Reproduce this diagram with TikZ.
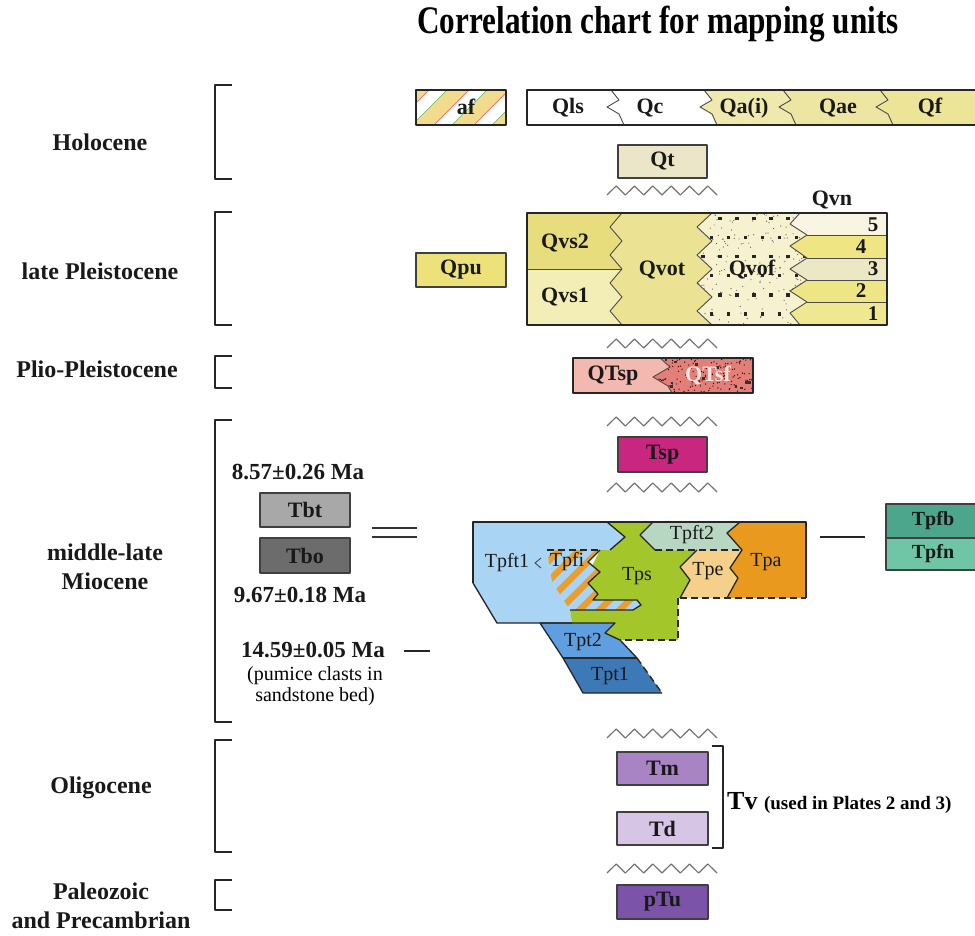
\documentclass[tikz,border=0pt]{standalone}
\usepackage{graphicx}
\usepackage{fontspec}
\setmainfont{Liberation Serif}
\definecolor{cAf}{HTML}{F1DB8C}
\definecolor{cQai}{HTML}{EFE9AD}
\definecolor{cQae}{HTML}{EDE6A2}
\definecolor{cQf}{HTML}{ECE496}
\definecolor{cQt}{HTML}{EBE6C8}
\definecolor{cQpu}{HTML}{EDE27A}
\definecolor{cQvsB}{HTML}{E7DD7D}
\definecolor{cQvsA}{HTML}{F2EEB5}
\definecolor{cQvot}{HTML}{EBE393}
\definecolor{cQvof}{HTML}{F6F1CF}
\definecolor{cQvnE}{HTML}{F8F6E2}
\definecolor{cQvnD}{HTML}{EFE683}
\definecolor{cQvnC}{HTML}{ECE8C4}
\definecolor{cQvnB}{HTML}{EEE585}
\definecolor{cQvnA}{HTML}{F0E890}
\definecolor{cQTsp}{HTML}{F3B9B1}
\definecolor{cQTsf}{HTML}{E27F79}
\definecolor{cQTsfT}{HTML}{FDE4E0}
\definecolor{cTsp}{HTML}{C8267F}
\definecolor{cTbt}{HTML}{A8A8A8}
\definecolor{cTbo}{HTML}{6C6C6C}
\definecolor{cTpfb}{HTML}{4BA68B}
\definecolor{cTpfn}{HTML}{6FC6A7}
\definecolor{cTm}{HTML}{A884C4}
\definecolor{cTd}{HTML}{D7C5E5}
\definecolor{cPTu}{HTML}{7B54A9}
\definecolor{cTpftA}{HTML}{A9D4F4}
\definecolor{cTps}{HTML}{A3C62B}
\definecolor{cTpftB}{HTML}{B7D7C3}
\definecolor{cTpe}{HTML}{F5D08A}
\definecolor{cTpa}{HTML}{E99A1E}
\definecolor{cTptB}{HTML}{5F9EDF}
\definecolor{cTptA}{HTML}{3D79B6}
\definecolor{cTpfiO}{HTML}{EB9E2C}
\begin{document}
\begin{tikzpicture}[x=1pt,y=-1pt,line join=round,
  era/.style={font=\fontsize{24}{30}\selectfont\bfseries,align=center,inner sep=0pt,text=black!90},
  ulbl/.style={font=\fontsize{22}{25}\selectfont\bfseries,inner sep=0pt,text=black!90},
  nlbl/.style={font=\fontsize{21}{24}\selectfont\bfseries,inner sep=0pt,text=black!90},
  tlbl/.style={font=\fontsize{20}{24}\selectfont,inner sep=0pt,text=black!90},
  malbl/.style={font=\fontsize{23}{26}\selectfont\bfseries,inner sep=0pt,text=black!90},
  ubox/.style={draw=black!75,line width=1.3pt,inner sep=0pt,font=\fontsize{22}{25}\selectfont\bfseries,text=black!90},
  brk/.style={draw=black!85,line width=1.5pt},
  zz/.style={draw=black!55,line width=1.2pt},
  edge/.style={draw=black!85,line width=1.3pt},
  dedge/.style={draw=black!85,line width=1.4pt,dash pattern=on 7pt off 4pt},
  thinl/.style={draw=black!70,line width=0.9pt},
]
\useasboundingbox (0,0) rectangle (975,936);
\fill[white] (0,0) rectangle (975,936);

% ---------- title ----------
\node[font=\fontsize{39}{42}\selectfont\bfseries,anchor=base,inner sep=0pt] (title) at (658,34) {\scalebox{0.8}[1]{Correlation chart for mapping units}};

% ---------- era labels and brackets ----------
\node[era] (holo) at (100,142) {Holocene};
\node[era] (latep) at (100,271) {late Pleistocene};
\node[era] (plio) at (97,369) {Plio-Pleistocene};
\node[era] (mioA) at (105,552) {middle-late};
\node[era] (mioB) at (105,581) {Miocene};
\node[era] (olig) at (101,788) {Oligocene};
\node[era] (paleoA) at (101,891) {Paleozoic};
\node[era] (paleoB) at (101,920) {and Precambrian};

\draw[brk] (232,85) -- (215,85) -- (215,179) -- (232,179);
\draw[brk] (232,212) -- (215,212) -- (215,325) -- (232,325);
\draw[brk] (232,356) -- (215,356) -- (215,388) -- (232,388);
\draw[brk] (232,420) -- (215,420) -- (215,722) -- (232,722);
\draw[brk] (232,740) -- (215,740) -- (215,852) -- (232,852);
\draw[brk] (232,880) -- (215,880) -- (215,910) -- (232,910);

% ---------- unconformities ----------
\foreach \yb in {195,348,426,492,738,873}
  \draw[zz] (607,\yb) \foreach \ii in {1,...,6} { -- ++(9.1667,-9) -- ++(9.1667,9) };

% ---------- af ----------
\begin{scope}
  \clip (416,90) rectangle (506,125);
  \fill[cAf] (416,90) rectangle (506,125);
  \foreach \ss in {372,412,452,492} {
    \fill[white] (\ss+22,125) -- (\ss+40,125) -- (\ss+75,90) -- (\ss+57,90) -- cycle;
    \draw[red!55,line width=0.8pt] (\ss+22,125) -- (\ss+57,90);
    \draw[green!50!black!60,line width=0.6pt] (\ss+40,125) -- (\ss+75,90);
  }
\end{scope}
\draw[edge] (416,90) rectangle (506,125);
\node[ulbl] (af) at (466,107) {af};

% ---------- Holocene strip ----------
\fill[white] (527,90) rectangle (980,125);
\fill[cQai] (704,90) -- (712,100) -- (700,107) -- (712,114) -- (717,125) -- (980,125) -- (980,90) -- cycle;
\fill[cQae] (783,90) -- (791,100) -- (779,107) -- (791,114) -- (796,125) -- (980,125) -- (980,90) -- cycle;
\fill[cQf] (880,90) -- (888,100) -- (876,107) -- (888,114) -- (893,125) -- (980,125) -- (980,90) -- cycle;
\draw[thinl] (611,90) -- (619,100) -- (607,107) -- (619,114) -- (624,125);
\draw[thinl] (704,90) -- (712,100) -- (700,107) -- (712,114) -- (717,125);
\draw[thinl] (783,90) -- (791,100) -- (779,107) -- (791,114) -- (796,125);
\draw[thinl] (880,90) -- (888,100) -- (876,107) -- (888,114) -- (893,125);
\draw[edge] (980,90) -- (527,90) -- (527,125) -- (980,125);
\node[ulbl] (qls) at (568,108) {Qls};
\node[ulbl] (qc) at (650,108) {Qc};
\node[ulbl] (qai) at (744,108) {Qa(i)};
\node[ulbl] (qae) at (838,108) {Qae};
\node[ulbl] (qf) at (930,108) {Qf};

% ---------- Qt, Qpu ----------
\node[ubox,fill=cQt,minimum width=89pt,minimum height=33pt] (qt) at (662.5,161.5) {Qt};
\node[ubox,fill=cQpu,minimum width=90pt,minimum height=34pt] (qpu) at (461,270) {Qpu};

% ---------- late Pleistocene block ----------
\fill[cQvot] (527,213) rectangle (887,325);
\fill[cQvsB] (527,213) -- (622,213) -- (610,227) -- (622,241) -- (610,255) -- (622,269) -- (527,269) -- cycle;
\fill[cQvsA] (527,269) -- (622,269) -- (610,283) -- (622,297) -- (610,311) -- (622,325) -- (527,325) -- cycle;
\draw[thinl] (622,213) -- (610,227) -- (622,241) -- (610,255) -- (622,269) -- (610,283) -- (622,297) -- (610,311) -- (622,325);
\draw[thinl] (527,269) -- (622,269);
\fill[cQvof] (712,213) -- (697,227) -- (712,241) -- (697,255) -- (712,269) -- (697,283) -- (712,297) -- (697,311) -- (712,325) -- (800,325) -- (790,313) -- (807,302) -- (790,291) -- (807,280) -- (790,269) -- (807,258) -- (790,246) -- (807,235) -- (790,224) -- (800,213) -- cycle;
\begin{scope}
  \clip (712,213) -- (697,227) -- (712,241) -- (697,255) -- (712,269) -- (697,283) -- (712,297) -- (697,311) -- (712,325) -- (800,325) -- (790,313) -- (807,302) -- (790,291) -- (807,280) -- (790,269) -- (807,258) -- (790,246) -- (807,235) -- (790,224) -- (800,213) -- cycle;
  \pgfmathsetseed{11}
  \foreach \ii in {1,...,170} \fill[black!65] (697+rnd*112,213+rnd*112) circle[radius=0.6pt];
  \foreach \rr in {0,...,5} \foreach \cc in {0,...,6}
    \fill[black!85] ({701+\cc*17+mod(\rr,2)*8.5},{217+\rr*19}) rectangle ++(3.5,3.5);
\end{scope}
\fill[cQvnE] (800,213) -- (887,213) -- (887,235) -- (807,235) -- (790,224) -- cycle;
\fill[cQvnD] (807,235) -- (887,235) -- (887,258) -- (807,258) -- (790,246) -- cycle;
\fill[cQvnC] (807,258) -- (887,258) -- (887,280) -- (807,280) -- (790,269) -- cycle;
\fill[cQvnB] (807,280) -- (887,280) -- (887,302) -- (807,302) -- (790,291) -- cycle;
\fill[cQvnA] (807,302) -- (887,302) -- (887,325) -- (800,325) -- (790,313) -- cycle;
\draw[thinl] (712,213) -- (697,227) -- (712,241) -- (697,255) -- (712,269) -- (697,283) -- (712,297) -- (697,311) -- (712,325);
\draw[thinl] (800,213) -- (790,224) -- (807,235) -- (790,246) -- (807,258) -- (790,269) -- (807,280) -- (790,291) -- (807,302) -- (790,313) -- (800,325);
\foreach \yy in {235,258,280,302} \draw[thinl] (807,\yy) -- (887,\yy);
\draw[edge] (527,213) rectangle (887,325);
\node[ulbl] (qvs2) at (565,243) {Qvs2};
\node[ulbl] (qvs1) at (565,297) {Qvs1};
\node[ulbl] (qvot) at (662,270) {Qvot};
\node[ulbl] (qvof) at (752,270) {Qvof};
\node[ulbl] (qvn) at (832,200) {Qvn};
\node[nlbl] (n5) at (873,225) {5};
\node[nlbl] (n4) at (861,247) {4};
\node[nlbl] (n3) at (873,269) {3};
\node[nlbl] (n2) at (861,291) {2};
\node[nlbl] (n1) at (873,314) {1};

% ---------- QTsp / QTsf ----------
\fill[cQTsp] (573,358) rectangle (753,393);
\fill[cQTsf] (660,358) -- (670,367) -- (653,377) -- (668,386) -- (672,393) -- (753,393) -- (753,358) -- cycle;
\begin{scope}
  \clip (660,358) -- (670,367) -- (653,377) -- (668,386) -- (672,393) -- (753,393) -- (753,358) -- cycle;
  \pgfmathsetseed{5}
  \foreach \ii in {1,...,160} \fill[black!70!red] (653+rnd*100,358+rnd*35) circle[radius=0.7pt];
  \foreach \ii in {1,...,14} \fill[black!80] (653+rnd*100,358+rnd*33) rectangle ++(2.5,2.5);
\end{scope}
\draw[thinl] (660,358) -- (670,367) -- (653,377) -- (668,386) -- (672,393);
\draw[edge] (573,358) rectangle (753,393);
\node[ulbl] (qtsp) at (613,376) {QTsp};
\node[ulbl,text=cQTsfT] (qtsf) at (708,376) {QTsf};

% ---------- Tsp ----------
\node[ubox,fill=cTsp,minimum width=89pt,minimum height=35pt] (tsp) at (662.5,454.5) {Tsp};

% ---------- Tbt / Tbo and ages ----------
\node[malbl] (ageA) at (298,472) {8.57±0.26 Ma};
\node[ubox,fill=cTbt,minimum width=90pt,minimum height=34pt] (tbt) at (305,510) {Tbt};
\node[ubox,fill=cTbo,minimum width=90pt,minimum height=35pt] (tbo) at (305,555.5) {Tbo};
\node[malbl] (ageB) at (300,595) {9.67±0.18 Ma};
\coordinate (eqA) at (372,528);
\coordinate (eqB) at (417,528);
\coordinate (eqC) at (372,537);
\coordinate (eqD) at (417,537);
\draw[draw=black!80,line width=1.5pt] (eqA) -- (eqB);
\draw[draw=black!80,line width=1.5pt] (eqC) -- (eqD);
\node[malbl] (ageC) at (313,650) {14.59±0.05 Ma};
\coordinate (dsA) at (404,651);
\coordinate (dsB) at (430,651);
\draw[draw=black!85,line width=1.5pt] (dsA) -- (dsB);
\node[font=\fontsize{20}{21}\selectfont,inner sep=0pt,align=center] (pum) at (315,686) {(pumice clasts in\\sandstone bed)};

% ---------- Miocene complex ----------
\fill[cTpftA] (473,522) -- (607,522) -- (625,537) -- (610,550) -- (547,550) -- (552,582) -- (570,610) -- (572,623) -- (497,623) -- (473,583) -- cycle;
\fill[cTps] (607,522) -- (653,522) -- (640,535) -- (655,550) -- (697,550) -- (680,567) -- (690,580) -- (680,598) -- (678,598) -- (678,640) -- (620,640) -- (605,633) -- (615,623) -- (572,623) -- (570,610) -- (600,550) -- (610,550) -- (625,537) -- cycle;
\begin{scope}
  \clip (547,550) -- (600,550) -- (588,562) -- (600,572) -- (588,583) -- (598,594) -- (593,600) -- (637,600) -- (641,605) -- (633,610) -- (570,610) -- (552,582) -- cycle;
  \fill[cTpftA] (540,545) rectangle (645,615);
  \foreach \ss in {470,490,...,650}
    \fill[cTpfiO] (\ss,615) -- (\ss+9,615) -- (\ss+74,550) -- (\ss+65,550) -- cycle;
\end{scope}
\fill[cTpftB] (653,522) -- (740,522) -- (727,533) -- (735,542) -- (742,550) -- (655,550) -- (640,535) -- cycle;
\fill[cTpe] (697,550) -- (742,550) -- (730,568) -- (738,578) -- (727,598) -- (680,598) -- (690,580) -- (680,567) -- cycle;
\fill[cTpa] (740,522) -- (806,522) -- (806,598) -- (727,598) -- (738,578) -- (730,568) -- (742,550) -- (735,542) -- (727,533) -- cycle;
\fill[cTptB] (540,623) -- (615,623) -- (605,633) -- (620,640) -- (637,658) -- (563,658) -- cycle;
\fill[cTptA] (563,658) -- (637,658) -- (662,693) -- (583,693) -- cycle;
% solid edges
\draw[edge] (473,583) -- (473,522) -- (806,522) -- (806,598);
\draw[edge] (473,583) -- (497,623) -- (572,623);
\draw[edge] (607,522) -- (625,537) -- (610,550);
\draw[edge] (653,522) -- (640,535) -- (655,550);
\draw[edge] (740,522) -- (727,533) -- (735,542) -- (742,550) -- (730,568) -- (738,578) -- (727,598);
\draw[edge] (697,550) -- (680,567) -- (690,580) -- (680,598);
\draw[edge] (600,550) -- (588,562) -- (600,572) -- (588,583) -- (598,594) -- (593,600) -- (637,600) -- (641,605) -- (633,610) -- (570,610);
\draw[edge] (540,623) -- (615,623) -- (605,633) -- (620,640) -- (637,658);
\draw[edge] (540,623) -- (563,658) -- (583,693) -- (662,693);
\draw[edge] (563,658) -- (637,658);
% dashed edges
\draw[dedge] (547,550) -- (600,550);
\draw[dedge] (655,550) -- (742,550);
\draw[dedge] (680,598) -- (806,598);
\draw[dedge] (678,598) -- (678,640) -- (620,640);
\draw[dedge] (637,658) -- (662,693);
\draw[thinl] (541,558) -- (535,563) -- (541,568);
% labels
\node[tlbl] (tpft1) at (507,563) {Tpft1};
\node[tlbl] (tpfi) at (567,562) {Tpfi};
\node[tlbl] (tps) at (637,576) {Tps};
\node[tlbl] (tpft2) at (692,535) {Tpft2};
\node[tlbl] (tpe) at (708,571) {Tpe};
\node[tlbl] (tpa) at (766,562) {Tpa};
\node[tlbl] (tpt2) at (583,642) {Tpt2};
\node[tlbl] (tpt1) at (610,676) {Tpt1};

% ---------- Tpfb / Tpfn ----------
\coordinate (tdA) at (820,537);
\coordinate (tdB) at (865,537);
\draw[draw=black!85,line width=1.5pt] (tdA) -- (tdB);
\node[ubox,fill=cTpfb,minimum width=94pt,minimum height=34pt,font=\fontsize{20}{24}\selectfont\bfseries] (tpfb) at (933,521) {Tpfb};
\node[ubox,fill=cTpfn,minimum width=94pt,minimum height=32pt,font=\fontsize{20}{24}\selectfont\bfseries] (tpfn) at (933,554) {Tpfn};

% ---------- Oligocene and older ----------
\node[ubox,fill=cTm,minimum width=91pt,minimum height=33pt] (tm) at (662.5,768.5) {Tm};
\node[ubox,fill=cTd,minimum width=91pt,minimum height=33pt] (td) at (662.5,828.5) {Td};
\draw[brk] (712,746) -- (723,746) -- (723,848) -- (712,848);
\node[anchor=west,inner sep=0pt] (tv) at (727,803) {\fontsize{26}{28}\selectfont\bfseries Tv \fontsize{19}{22}\selectfont (used in Plates 2 and 3)};
\node[ubox,fill=cPTu,minimum width=91pt,minimum height=34pt] (ptu) at (662.5,902) {pTu};
\end{tikzpicture}
\end{document}
